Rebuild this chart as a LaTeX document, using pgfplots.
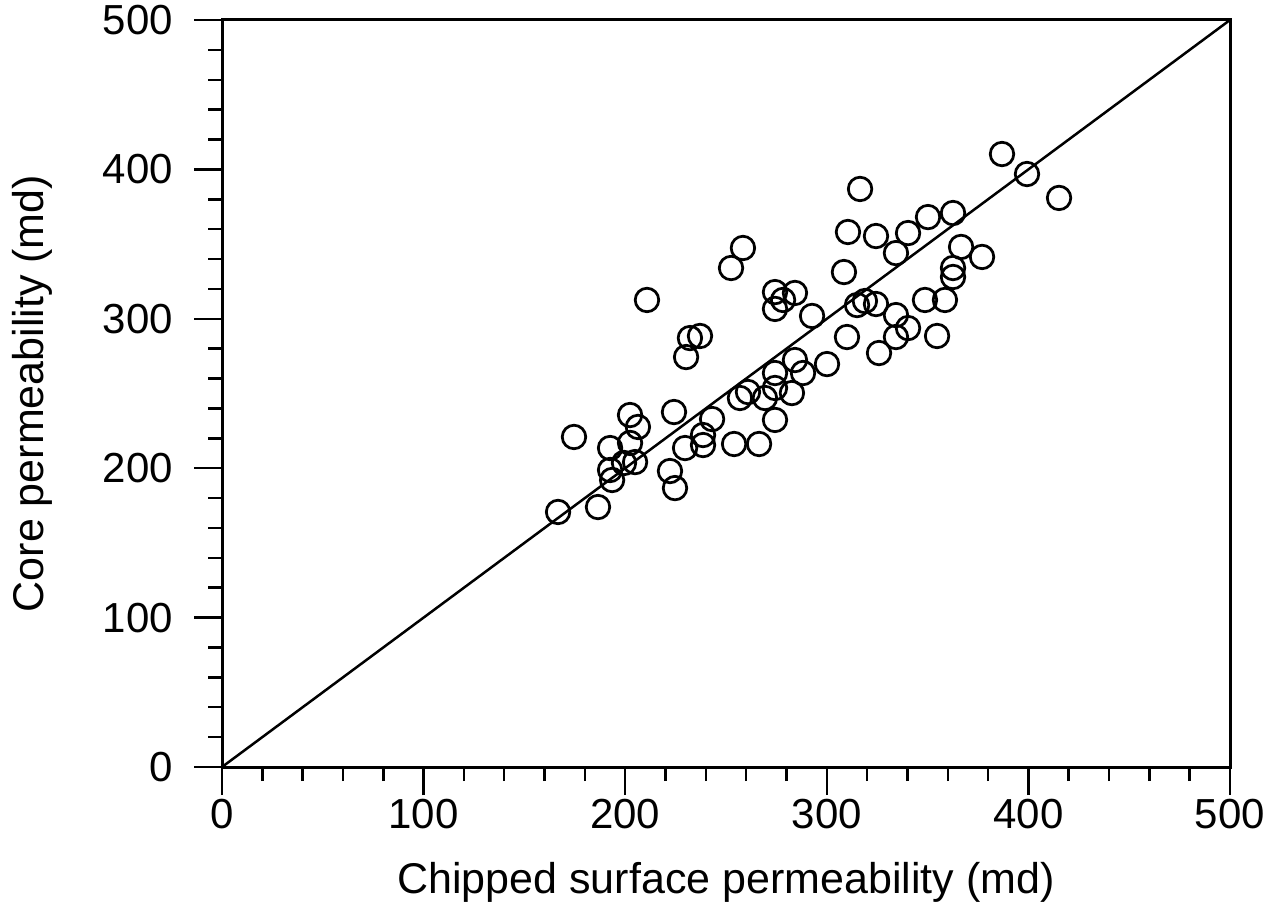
\documentclass[border=0pt]{standalone}
\usepackage{fontspec}
\setmainfont{Liberation Sans}
\usepackage{pgfplots}
\pgfplotsset{compat=1.18}
\begin{document}
\begin{tikzpicture}
\useasboundingbox (-88.8pt,-57.2pt) rectangle (424.4pt,306.8pt);
\begin{axis}[
  scale only axis,
  width=403.2pt, height=298.8pt,
  xmin=0, xmax=500, ymin=0, ymax=500,
  xtick={0,100,...,500}, ytick={0,100,...,500},
  minor tick num=4,
  tick pos=left,
  tick align=outside,
  major tick length=11.2pt,
  minor tick length=5.6pt,
  every tick/.style={black, line width=1pt},
  axis line style={line width=1.2pt},
  /pgf/number format/assume math mode=true,
  ticklabel style={font=\fontsize{16.8}{20}\selectfont},
  yticklabel style={anchor=east, inner sep=0pt, xshift=-8.2pt},
  xticklabel style={anchor=north, inner sep=0pt, yshift=-1.4pt},
  label style={font=\fontsize{17.2}{20}\selectfont},
  xlabel={Chipped surface permeability (md)},
  ylabel={Core permeability (md)},
  xlabel style={at={(axis description cs:0.5,-0.127)}, anchor=north, inner sep=0pt},
  ylabel style={at={(axis description cs:-0.1677,0.5)}, anchor=south, inner sep=0pt},
  clip=false,
]
\addplot[black, line width=1pt] coordinates {(0,0) (500,500)};
\addplot[only marks, mark=o, mark size=4.7pt, mark options={line width=1.1pt, black}] coordinates {
(166.7,170.7) (174.6,220.9) (186.5,174.0) (192.5,213.5) (192.5,198.8)
(193.5,192.1) (202.4,235.6) (206.3,227.6) (202.4,216.9) (204.9,204.1)
(199.4,203.5) (210.8,312.6) (222.2,198.1) (224.7,186.7) (224.2,237.6)
(229.7,213.5) (230.2,274.4) (232.1,287.1) (237.1,288.5) (238.6,222.2)
(238.6,215.5) (243.1,232.9) (252.5,334.0) (254.0,216.2) (258.4,347.4)
(256.9,247.0) (260.9,251.0) (266.4,216.2) (269.3,247.0) (274.3,263.7)
(274.3,253.7) (274.3,232.3) (274.3,317.9) (284.2,317.3) (274.3,306.6)
(278.3,312.6) (292.7,301.9) (282.7,250.3) (284.2,272.4) (288.2,263.7)
(300.1,269.7) (310.0,287.8) (315.0,309.2) (318.9,311.9) (324.4,309.9)
(334.3,302.5) (340.3,293.8) (334.3,287.8) (325.9,277.1) (348.7,312.6)
(358.6,312.6) (354.7,288.5) (316.5,386.9) (310.5,358.1) (324.4,355.4)
(340.3,357.4) (350.2,368.1) (362.6,370.8) (334.3,344.0) (308.5,331.3)
(366.6,348.1) (377.0,341.4) (362.6,334.0) (362.6,328.0) (386.9,410.3)
(399.3,396.9) (415.2,380.9)
};
\end{axis}
\end{tikzpicture}
\end{document}
